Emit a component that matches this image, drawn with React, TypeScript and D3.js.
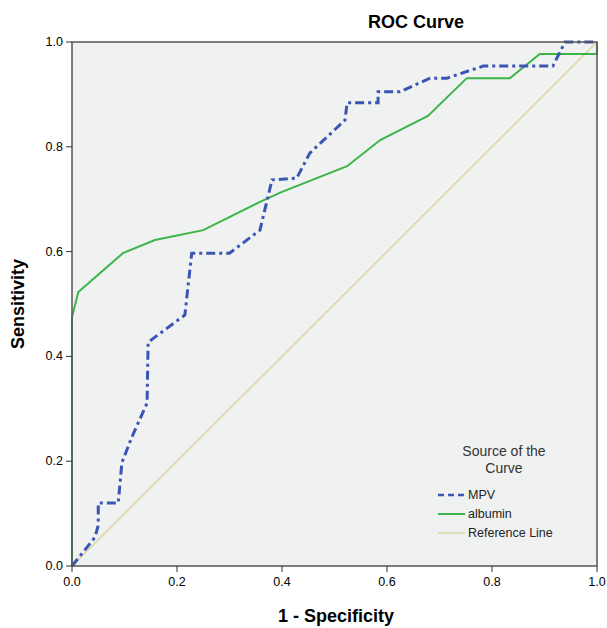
import * as d3 from "d3";

const mpvX = [0, 0.044, 0.05, 0.05, 0.088, 0.095, 0.114, 0.143, 0.145, 0.215, 0.228, 0.3, 0.358, 0.381, 0.428, 0.453, 0.52, 0.524, 0.583, 0.583, 0.625, 0.682, 0.714, 0.783, 0.916, 0.939, 1];
const mpvY = [0, 0.055, 0.078, 0.12, 0.12, 0.197, 0.246, 0.311, 0.427, 0.479, 0.597, 0.597, 0.641, 0.737, 0.74, 0.788, 0.851, 0.884, 0.884, 0.905, 0.905, 0.931, 0.931, 0.954, 0.954, 1, 1];
const albX = [0, 0, 0.012, 0.097, 0.158, 0.25, 0.358, 0.4, 0.524, 0.587, 0.678, 0.752, 0.834, 0.891, 1, 1];
const albY = [0, 0.475, 0.523, 0.597, 0.622, 0.641, 0.695, 0.714, 0.763, 0.813, 0.859, 0.931, 0.931, 0.977, 0.977, 1];
const ticks = [0, 0.2, 0.4, 0.6, 0.8, 1];

export default function App() {
  const W = 607, H = 628;
  const x = d3.scaleLinear().domain([0, 1]).range([72, 597]);
  const y = d3.scaleLinear().domain([0, 1]).range([566, 42]);
  const line = d3.line<[number, number]>().x((d) => x(d[0])).y((d) => y(d[1]));
  const mpv = mpvX.map((v, i) => [v, mpvY[i]] as [number, number]);
  const alb = albX.map((v, i) => [v, albY[i]] as [number, number]);
  const font = "Liberation Sans, Arial, sans-serif";

  return (
    <svg width={W} height={H} style={{ position: "absolute", left: 0, top: 0 }} fontFamily={font}>
      <rect width={W} height={H} fill="#fff" />
      <rect x={72} y={42} width={525} height={524} fill="#f0f1f1" />
      <path d={line([[0, 0], [1, 1]])!} stroke="#ddd4a0" strokeWidth={1.5} fill="none" />
      <path d={line(alb)!} stroke="#3cb44a" strokeWidth={2} fill="none" />
      <path d={line(mpv)!} stroke="#3a55b4" strokeWidth={3} strokeDasharray="9 4 3 4" fill="none" />
      <rect x={72} y={42} width={525} height={524} fill="none" stroke="#555" strokeWidth={1.5} />
      {ticks.map((t) => (
        <g key={t}>
          <line x1={66} x2={72} y1={y(t)} y2={y(t)} stroke="#333" />
          <text x={63} y={y(t) + 4} textAnchor="end" fontSize={12.5}>{t.toFixed(1)}</text>
          <line x1={x(t)} x2={x(t)} y1={566} y2={572} stroke="#333" />
          <text x={x(t)} y={586} textAnchor="middle" fontSize={12.5}>{t.toFixed(1)}</text>
        </g>
      ))}
      <text x={416} y={28} textAnchor="middle" fontSize={18} fontWeight="bold">ROC Curve</text>
      <text x={336} y={622} textAnchor="middle" fontSize={18} fontWeight="bold">1 - Specificity</text>
      <text transform="translate(24,304) rotate(-90)" textAnchor="middle" fontSize={18} fontWeight="bold">Sensitivity</text>
      <text x={504} y={456} textAnchor="middle" fontSize={14} fill="#333">Source of the</text>
      <text x={504} y={473} textAnchor="middle" fontSize={14} fill="#333">Curve</text>
      <line x1={438} x2={465} y1={495} y2={495} stroke="#3a55b4" strokeWidth={2.5} strokeDasharray="6 4" />
      <text x={468} y={499} fontSize={12.5} fill="#222">MPV</text>
      <line x1={438} x2={465} y1={514} y2={514} stroke="#3cb44a" strokeWidth={2} />
      <text x={468} y={518} fontSize={12.5} fill="#222">albumin</text>
      <line x1={438} x2={465} y1={533} y2={533} stroke="#ddd4a0" strokeWidth={1.5} />
      <text x={468} y={537} fontSize={12.5} fill="#222">Reference Line</text>
    </svg>
  );
}
